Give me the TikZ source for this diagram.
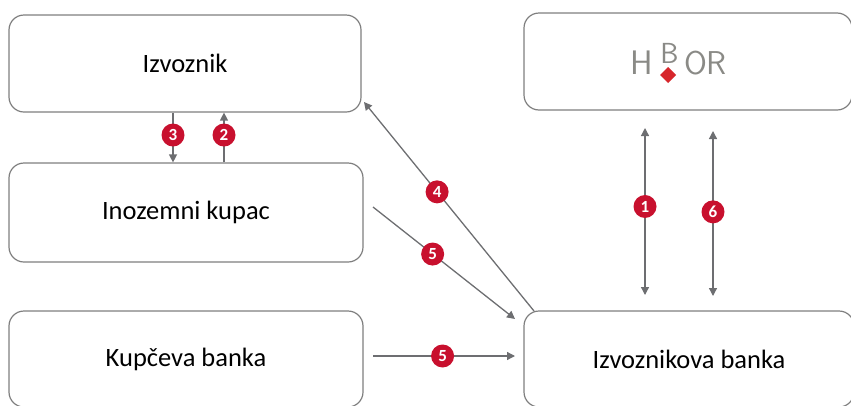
\documentclass[tikz,border=0pt]{standalone}
\usepackage{fontspec}
\setmainfont{Carlito}
\usetikzlibrary{arrows.meta,calc}
\definecolor{boxgray}{HTML}{7F7F7F}
\definecolor{arrgray}{HTML}{6D6E71}
\definecolor{badgered}{HTML}{C8102E}
\definecolor{logogray}{HTML}{8A8A86}
\definecolor{logored}{HTML}{D7262B}
\begin{document}
\begin{tikzpicture}[x=1pt,y=-1pt,
  box/.style={draw=boxgray,line width=1.2pt,rounded corners=15pt,fill=white,
    inner sep=0pt,font=\fontsize{26.5}{30}\selectfont},
  conn/.style={draw=arrgray,line width=1.3pt,-{Triangle[length=8pt,width=8pt]}},
  dconn/.style={draw=arrgray,line width=1.3pt,{Triangle[length=8pt,width=8pt]}-{Triangle[length=8pt,width=8pt]}},
  badge/.style={circle,fill=badgered,text=white,inner sep=0pt,minimum size=23pt,
    font=\bfseries\fontsize{17}{17}\selectfont},
  logo/.style={text=logogray,anchor=base,inner sep=0pt},
]
\useasboundingbox (0,0) rectangle (851,405);
\clip (0,0) rectangle (851,405);
% boxes
\node[box,minimum width=352pt,minimum height=97pt] (izv) at (185,63.5) {Izvoznik};
\node[box,minimum width=354pt,minimum height=99pt] (kup) at (186,212.5) {Inozemni kupac};
\node[box,minimum width=354pt,minimum height=96pt] (kb) at (186,359) {Kupčeva banka};
\node[box,minimum width=328pt,minimum height=97pt] (hbor) at (688,61.5) {};
\node[box,minimum width=330pt,minimum height=96pt] (ib) at (689,359) {Izvoznikova banka};
% HBOR logo
\node[logo,font=\sffamily\fontsize{34}{34}\selectfont] (lh) at (642,74) {H};
\node[logo,font=\sffamily\fontsize{29}{29}\selectfont] (lb) at (669.5,63) {B};
\node[logo,font=\sffamily\fontsize{33}{33}\selectfont] (lor) at (705.5,74) {OR};
\fill[logored] (668,67) -- (676,75) -- (668,83) -- (660,75) -- cycle;
% coordinates for connector ends
\coordinate (a3s) at (izv.south -| 173,0);
\coordinate (a3e) at (kup.north -| 173,0);
\coordinate (a2s) at (kup.north -| 224,0);
\coordinate (a2e) at (izv.south -| 224,0);
\coordinate (a4s) at (534,311);
\coordinate (a4e) at (364,102);
\coordinate (a5s) at (373,207);
\coordinate (a5e) at (515,319);
\coordinate (a5bs) at (373,356);
\coordinate (a5be) at (515,356);
\coordinate (a1s) at (645,128);
\coordinate (a1e) at (645,295);
\coordinate (a6s) at (713,131);
\coordinate (a6e) at (713,296);
% connectors
\draw[conn] (a3s) -- (a3e) node[badge,pos=0.45] {3};
\draw[conn] (a2s) -- (a2e) node[badge,pos=0.55] {2};
\draw[conn] (a4s) -- (a4e) node[badge,pos=0.57] {4};
\draw[conn] (a5s) -- (a5e) node[badge,pos=0.42] {5};
\draw[conn] (a5bs) -- (a5be) node[badge,pos=0.49] {5};
\draw[dconn] (a1s) -- (a1e) node[badge,pos=0.47] {1};
\draw[dconn] (a6s) -- (a6e) node[badge,pos=0.49] {6};
\end{tikzpicture}
\end{document}
